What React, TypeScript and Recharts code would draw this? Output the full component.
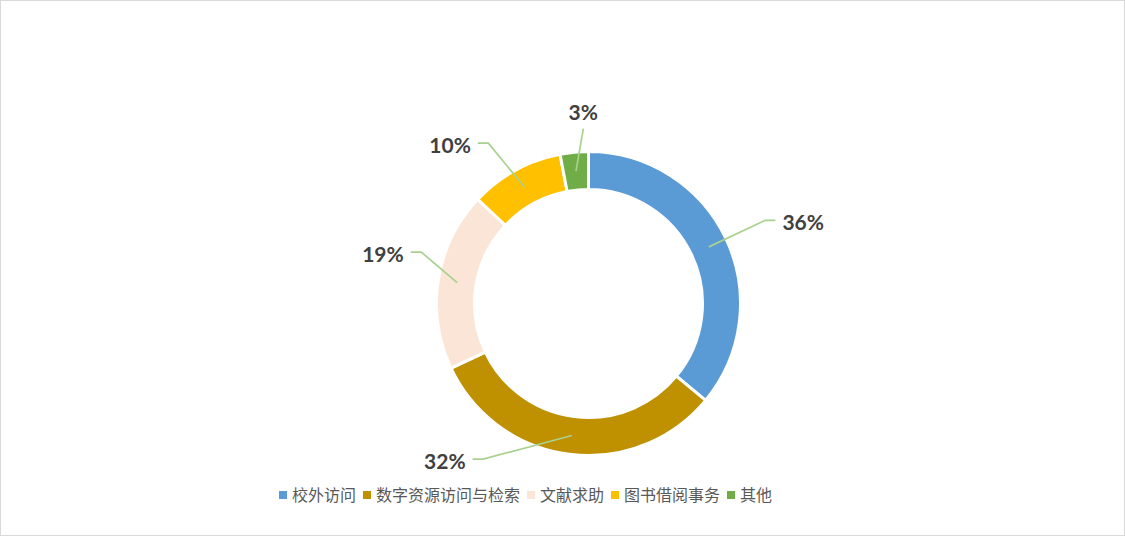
import React from "react";
import { PieChart, Pie, Cell, Legend } from "recharts";

// 服务类别 与 占比（%）
const categories = ["校外访问", "数字资源访问与检索", "文献求助", "图书借阅事务", "其他"];
const shares = [36, 32, 19, 10, 3];
const colors = ["#5B9BD5", "#BF9000", "#FBE5D6", "#FFC000", "#70AD47"];

// 引导线折点：相对扇区中线的角度偏移与半径（照原图摆放）
const labelAngleShift = [0, -26.9, -8.1, 3.2, -3.7];
const labelRadius = [195, 188, 175, 189, 175];

const data = categories.map((name, i) => ({ name, value: shares[i] }));

const RAD = Math.PI / 180;
const LINE_COLOR = "#A9D18E";

function PieLabel(props: any) {
  const { cx, cy, midAngle, innerRadius, outerRadius, index, value } = props;
  const mid = (innerRadius + outerRadius) / 2;
  const sx = cx + mid * Math.cos(-midAngle * RAD);
  const sy = cy + mid * Math.sin(-midAngle * RAD);
  const a = midAngle + labelAngleShift[index];
  const ex = cx + labelRadius[index] * Math.cos(-a * RAD);
  const ey = cy + labelRadius[index] * Math.sin(-a * RAD);
  const textStyle = {
    fontFamily: "Lato, 'Open Sans', sans-serif",
    fontWeight: 700,
    fontSize: 21,
    fill: "#404040",
  };

  // 顶部的小扇区：文字直接放在线的上方
  if (Math.abs(ex - cx) < 20) {
    return (
      <g>
        <polyline points={`${sx},${sy} ${ex},${ey}`} fill="none" stroke={LINE_COLOR} strokeWidth={1.7} />
        <text x={ex} y={ey - 17} textAnchor="middle" dominantBaseline="central" style={textStyle}>
          {value}%
        </text>
      </g>
    );
  }

  const side = ex > cx ? 1 : -1;
  const hx = ex + side * 10.5;
  return (
    <g>
      <polyline points={`${sx},${sy} ${ex},${ey} ${hx},${ey}`} fill="none" stroke={LINE_COLOR} strokeWidth={1.7} />
      <text
        x={hx + side * 7}
        y={ey + 1}
        textAnchor={side > 0 ? "start" : "end"}
        dominantBaseline="central"
        style={textStyle}
      >
        {value}%
      </text>
    </g>
  );
}

function LegendContent() {
  return (
    <div style={{ display: "flex", alignItems: "center" }}>
      {categories.map((name, i) => (
        <div key={name} style={{ display: "flex", alignItems: "center", marginRight: 7 }}>
          <span style={{ width: 8, height: 8, background: colors[i], marginRight: 5, marginTop: 2 }} />
          <span
            style={{
              fontFamily: "'Noto Sans CJK SC', sans-serif",
              fontSize: 16,
              color: "#595959",
              lineHeight: "20px",
            }}
          >
            {name}
          </span>
        </div>
      ))}
    </div>
  );
}

export default function App() {
  return (
    <div
      style={{
        position: "absolute",
        left: 0,
        top: 0,
        width: 1125,
        height: 536,
        boxSizing: "border-box",
        border: "1px solid #D9D9D9",
        background: "#fff",
      }}
    >
      <div style={{ position: "absolute", left: -1, top: -1 }}>
        <PieChart width={1125} height={536} margin={{ top: 0, right: 0, bottom: 0, left: 0 }}>
          <Pie
            data={data}
            dataKey="value"
            nameKey="name"
            cx={588.5}
            cy={303.5}
            innerRadius={114}
            outerRadius={152}
            startAngle={90}
            endAngle={-270}
            stroke="#fff"
            strokeWidth={3}
            label={PieLabel}
            labelLine={false}
            isAnimationActive={false}
          >
            {data.map((d, i) => (
              <Cell key={d.name} fill={colors[i]} />
            ))}
          </Pie>
          <Legend
            content={<LegendContent />}
            wrapperStyle={{ position: "absolute", left: 279, top: 484, width: "auto" }}
          />
        </PieChart>
      </div>
    </div>
  );
}
